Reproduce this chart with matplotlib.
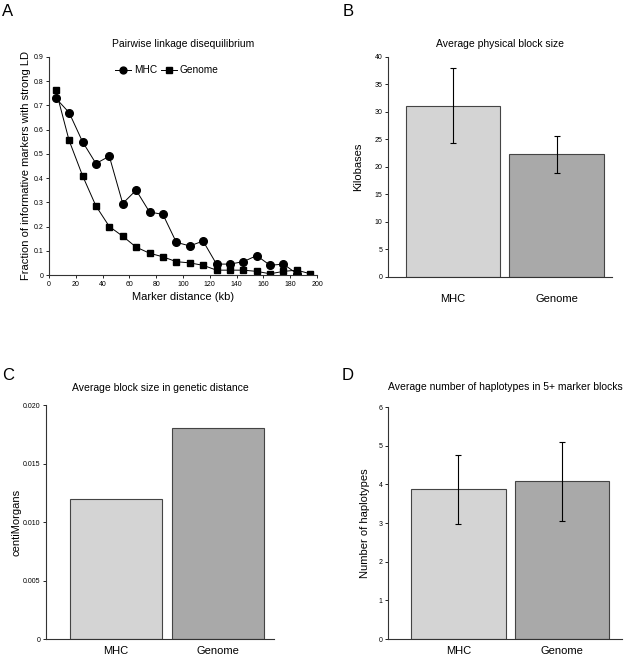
import matplotlib
matplotlib.use("Agg")
import matplotlib.pyplot as plt

plt.rcParams["font.family"] = ["Liberation Sans", "DejaVu Sans"]

# panel A: pairwise LD vs marker distance
dist_mhc = [5, 15, 25, 35, 45, 55, 65, 75, 85, 95, 105, 115, 125, 135, 145, 155, 165, 175, 185]
ld_mhc = [0.73, 0.67, 0.55, 0.46, 0.49, 0.295, 0.35, 0.26, 0.25, 0.135, 0.12, 0.14,
          0.045, 0.045, 0.055, 0.08, 0.04, 0.045, 0.005]
dist_gen = [5, 15, 25, 35, 45, 55, 65, 75, 85, 95, 105, 115, 125, 135, 145, 155, 165, 175, 185, 195]
ld_gen = [0.765, 0.555, 0.41, 0.285, 0.20, 0.16, 0.115, 0.09, 0.075, 0.055, 0.05, 0.04,
          0.02, 0.02, 0.02, 0.015, 0.005, 0.015, 0.02, 0.005]

# panels B-D
groups = ["MHC", "Genome"]
phys_kb = [31.1, 22.3]
phys_err = [6.8, 3.4]
genetic_cm = [0.012, 0.018]
haplo_n = [3.87, 4.08]
haplo_err = [0.9, 1.02]

bar_cols = ["#d4d4d4", "#a9a9a9"]
edge = "#444444"

fig = plt.figure(figsize=(6.35, 6.59), dpi=100)


def style(ax):
    for s in ("top", "right"):
        ax.spines[s].set_visible(False)
    for s in ("left", "bottom"):
        ax.spines[s].set_linewidth(0.8)
        ax.spines[s].set_color("#333333")
    ax.tick_params(axis="y", labelsize=5, length=2, width=0.6, pad=2)
    ax.tick_params(axis="x", labelsize=5, length=2, width=0.6, pad=2)


# A
axA = fig.add_axes([0.0772, 0.5827, 0.422, 0.331])
axA.plot(dist_mhc, ld_mhc, "-o", color="black", lw=0.7, ms=5.5, label="MHC")
axA.plot(dist_gen, ld_gen, "-s", color="black", lw=0.7, ms=5, label="Genome")
axA.set_xlim(0, 200)
axA.set_ylim(0, 0.9)
axA.set_xticks(range(0, 201, 20))
axA.set_yticks([0, 0.1, 0.2, 0.3, 0.4, 0.5, 0.6, 0.7, 0.8, 0.9])
axA.set_yticklabels(["0", "0.1", "0.2", "0.3", "0.4", "0.5", "0.6", "0.7", "0.8", "0.9"])
style(axA)
axA.set_xlabel("Marker distance (kb)", fontsize=8, labelpad=3)
axA.set_ylabel("Fraction of informative markers with strong LD", fontsize=8, labelpad=2)
axA.set_title("Pairwise linkage disequilibrium", fontsize=7.5, pad=7)
axA.legend(loc="upper center", bbox_to_anchor=(0.44, 0.98), ncol=2, frameon=False,
           fontsize=7.3, handlelength=1.6, handletextpad=0.3, columnspacing=0.3,
           markerscale=0.9, borderaxespad=0)


def bars(ax, vals, err, xlim, width):
    ax.bar([0, 1], vals, width=width, color=bar_cols, edgecolor=edge, linewidth=0.8, zorder=2)
    if err is not None:
        ax.errorbar([0, 1], vals, yerr=err, fmt="none", ecolor="black", elinewidth=0.8,
                    capsize=2, capthick=0.8, zorder=3)
    ax.set_xlim(*xlim)
    style(ax)
    ax.set_xticks([0, 1])
    ax.set_xticklabels(groups, fontsize=8)
    ax.tick_params(axis="x", length=0, pad=12)


# B
axB = fig.add_axes([0.611, 0.5797, 0.353, 0.334])
bars(axB, phys_kb, phys_err, (-0.628, 1.536), 0.91)
axB.set_ylim(0, 40)
axB.set_yticks(range(0, 41, 5))
axB.set_ylabel("Kilobases", fontsize=8, labelpad=8)
axB.set_title("Average physical block size", fontsize=7.5, pad=7)

# C
axC = fig.add_axes([0.0724, 0.0303, 0.359, 0.355])
bars(axC, genetic_cm, None, (-0.686, 1.549), 0.90)
axC.set_ylim(0, 0.020)
axC.set_yticks([0, 0.005, 0.010, 0.015, 0.020])
axC.set_yticklabels(["0", "0.005", "0.010", "0.015", "0.020"])
axC.tick_params(axis="x", pad=5)
axC.set_ylabel("centiMorgans", fontsize=8, labelpad=1)
axC.set_title("Average block size in genetic distance", fontsize=7.5, pad=10)

# D
axD = fig.add_axes([0.611, 0.0303, 0.3685, 0.352])
bars(axD, haplo_n, haplo_err, (-0.681, 1.58), 0.915)
axD.set_ylim(0, 6)
axD.set_yticks(range(0, 7))
axD.tick_params(axis="x", pad=5)
axD.set_ylabel("Number of haplotypes", fontsize=8, labelpad=6)
axD.set_title("Average number of haplotypes in 5+ marker blocks", fontsize=7.5, pad=12)

# panel letters
for lbl, x, y in [("A", 8, 12), ("B", 348, 11), ("C", 8, 375), ("D", 348, 375)]:
    fig.text(x / 635, 1 - y / 659, lbl, fontsize=12, ha="center", va="center")

fig.savefig("out.png", dpi=100)
